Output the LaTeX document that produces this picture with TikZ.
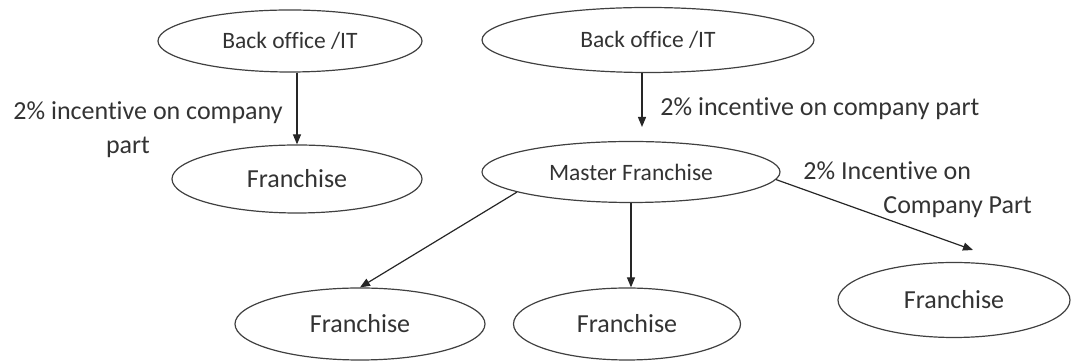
\documentclass[tikz,border=0pt]{standalone}
\usepackage{fontspec}
\setmainfont[Ligatures=NoCommon]{Carlito}
\usetikzlibrary{shapes.geometric,arrows.meta}

\begin{document}
\begin{tikzpicture}[x=0.5pt,y=-0.5pt,
    oval/.style={ellipse,draw=black!75,line width=0.6pt,inner sep=0pt,text=black!80},
    small/.style={font=\fontsize{11.75}{14}\selectfont},
    big/.style={font=\fontsize{13}{17}\selectfont,text=black!80},
    arr/.style={draw=black!85,line width=0.6pt,-{Triangle[length=5pt,width=4pt]}}]
    \useasboundingbox (0,0) rectangle (1072,362);
    \node[oval,small,minimum width=132pt,minimum height=31pt] (bo1) at (290,41) {Back office /IT};
    \node[oval,big,minimum width=125pt,minimum height=34pt] (fr1) at (297,179) {Franchise};
    \node[oval,small,minimum width=166pt,minimum height=32.5pt] (bo2) at (648,40) {Back office /IT};
    \node[oval,small,minimum width=149pt,minimum height=30.5pt] (mf) at (631,172) {Master Franchise};
    \node[oval,big,minimum width=125pt,minimum height=36pt] (fr2) at (360,324) {Franchise};
    \node[oval,big,minimum width=113.5pt,minimum height=36pt] (fr3) at (627,324) {Franchise};
    \node[oval,big,minimum width=116pt,minimum height=37.5pt] (fr4) at (954,300) {Franchise};
    \coordinate (t2) at (642,127);
    \coordinate (t4) at (973,250);
    \draw[arr] (fr1.north |- bo1.south) -- (fr1.north);
    \draw[arr] (t2 |- bo2.south) -- (t2);
    \draw[arr] (mf.190) -- (fr2.north);
    \draw[arr] (mf.south) -- (mf.south |- fr3.north);
    \draw[arr] (mf.-3) -- (t4);
    \node[big,align=center,inner sep=0pt] (lab1) at (148,130) {2\% incentive on company\\part\hspace*{20pt}};
    \node[big,anchor=west,inner sep=0pt] (lab2) at (660,109) {2\% incentive on company part};
    \node[big,anchor=west,align=left,inner sep=0pt] (lab3) at (803,190) {2\% Incentive on\\\hspace*{40pt}Company Part};
\end{tikzpicture}
\end{document}
